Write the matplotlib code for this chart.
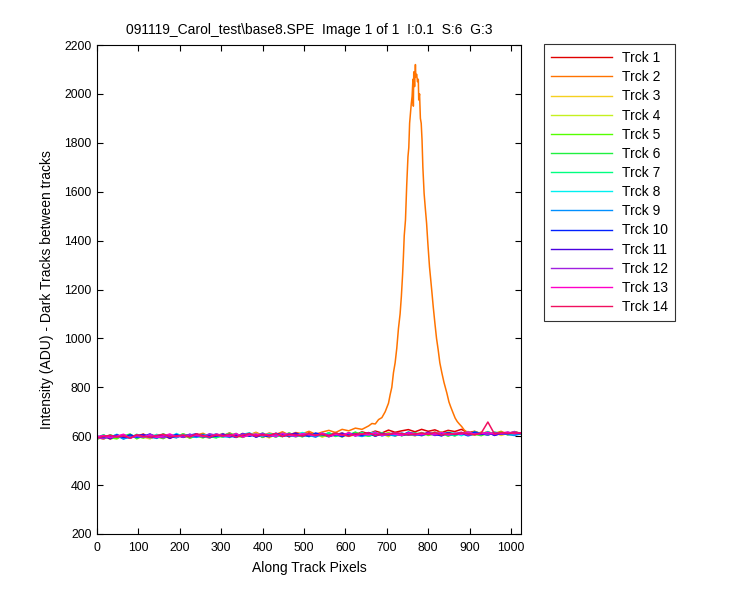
import matplotlib
matplotlib.use("Agg")
import matplotlib.pyplot as plt

plt.rcParams['font.family'] = ['Liberation Sans', 'DejaVu Sans']

TITLE = "091119_Carol_test\\base8.SPE  Image 1 of 1  I:0.1  S:6  G:3"
X_LABEL = "Along Track Pixels"
Y_LABEL = "Intensity (ADU) - Dark Tracks between tracks"
LABELS = ["Trck %d" % i for i in range(1, 15)]
COLORS = ['#e00000', '#ff7300', '#f5d020', '#c5f020', '#55ff00', '#20f040', '#00ff80',
          '#00f0f0', '#0090ff', '#0020ff', '#4a00e0', '#a020e0', '#ff00c8', '#f01060']

# shared sampling positions for the baseline tracks
X_BASE = list(range(0, 1024, 16)) + [1023]

TRCK1 = [589,604,593,606,590,602,596,608,591,600,605,592,607,595,603,598,
         609,594,604,598,611,596,606,600,612,595,608,601,613,597,610,603,
         614,599,610,604,615,601,612,606,618,610,621,613,625,616,622,627,
         618,628,620,626,615,624,619,628,614,620,610,618,607,616,609,619,
         611]

TRCK2_X = [0,16,32,48,64,80,96,112,128,144,160,176,192,208,224,240,256,272,288,304,
           320,336,352,368,384,400,416,432,448,464,480,496,512,528,544,
           560,576,592,608,624,640,656,664,672,680,688,696,704,708,712,716,720,724,
           728,732,735,738,740,742,745,748,751,753,755,757,759,761,763,764,765,767,
           769,770,772,774,776,777,779,781,783,785,787,790,793,796,799,803,806,809,
           812,816,820,824,828,833,838,845,850,854,860,865,870,875,881,887,893,900,
           912,928,944,960,976,992,1008,1023]
TRCK2 = [595,588,603,592,606,594,601,609,593,604,597,607,595,610,599,604,612,598,608,601,
         614,600,611,605,616,603,613,607,618,605,615,610,620,608,617,
         624,615,628,622,633,628,642,652,650,668,676,700,735,770,800,860,900,960,
         1040,1100,1170,1260,1334,1420,1484,1627,1743,1780,1880,1920,1960,1990,2060,1950,2090,2030,
         2120,2070,2080,2050,2060,1975,2000,1900,1880,1811,1700,1593,1530,1471,1390,1293,1240,1186,
         1130,1063,1000,953,900,858,820,776,740,721,695,674,660,650,639,625,618,612,
         619,608,616,611,620,607,617,612]

TRCK3 = [592,603,587,599,606,591,604,596,589,607,598,593,605,600,594,609,
         599,592,607,597,610,595,603,612,598,605,593,609,601,614,597,606,
         602,611,596,608,600,614,599,606,612,601,609,603,616,600,611,606,
         613,602,610,617,605,612,601,615,608,604,618,609,614,603,612,617,
         610]
TRCK4 = [600,590,597,605,593,608,589,602,598,606,592,604,596,610,591,603,
         606,596,601,611,594,607,599,604,613,597,609,602,598,612,604,600,
         609,598,613,603,607,596,611,605,601,614,606,610,598,616,604,609,
         601,613,607,611,618,604,610,614,603,612,608,619,606,613,609,604,
         613]
TRCK5 = [587,598,594,589,605,596,600,592,607,597,590,604,599,608,595,601,
         593,606,600,597,609,602,595,611,598,604,607,596,610,600,605,613,
         599,607,603,598,612,606,601,615,604,600,610,607,613,602,609,605,
         607,615,603,610,612,600,611,606,616,608,602,613,610,617,605,611,
         608]
TRCK6 = [598,592,606,595,601,609,590,603,598,594,610,597,602,606,593,600,
         608,599,593,605,603,611,596,607,600,613,599,604,610,601,607,597,
         611,604,601,614,599,608,605,617,603,610,600,612,606,615,602,609,
         614,605,611,608,603,616,610,607,619,606,612,604,617,611,608,615,
         614]
TRCK7 = [595,606,590,600,597,593,608,596,602,591,606,599,594,609,597,604,
         600,608,595,603,612,598,606,601,609,596,611,604,599,613,602,607,
         598,610,604,614,601,607,611,603,616,600,608,613,605,610,602,617,
         609,604,613,607,615,610,601,612,606,618,611,605,614,608,616,610,
         609]
TRCK8 = [593,600,596,608,591,597,604,599,593,607,601,596,611,598,603,595,
         606,601,610,597,604,599,607,614,600,603,609,597,612,605,601,615,
         606,600,612,604,609,599,613,607,603,611,617,601,608,612,606,614,
         603,611,607,616,605,609,613,602,614,610,607,618,604,612,615,609,
         612]
TRCK9 = [590,597,593,602,588,599,595,604,596,592,603,598,594,605,600,596,
         602,593,608,599,596,604,601,610,597,605,602,599,609,603,598,607,
         604,596,610,602,606,600,612,605,599,608,603,611,606,601,613,604,
         609,602,611,606,614,603,608,612,601,609,606,615,604,611,607,603,
         610]
TRCK10 = [601,592,599,604,595,606,597,600,609,594,602,598,607,596,604,610,
          597,603,599,608,602,595,611,600,606,603,598,612,605,601,609,604,
          600,613,606,602,610,598,611,607,604,614,601,609,606,612,603,616,
          608,605,612,609,601,614,607,611,604,617,609,606,613,608,615,611,
          612]
TRCK11 = [596,601,589,605,597,593,602,607,595,600,605,591,603,598,608,600,
          605,596,602,609,598,604,600,611,596,607,603,610,599,605,613,601,
          608,603,611,598,606,613,602,609,605,615,601,610,607,612,604,608,
          611,606,616,603,610,613,607,614,605,611,608,616,603,612,610,614,
          611]
TRCK12 = [594,590,602,598,605,593,600,596,608,599,593,604,601,596,607,602,
          598,610,603,600,606,597,609,604,602,612,599,607,603,611,600,609,
          606,601,612,604,609,603,614,600,610,606,613,602,608,615,605,611,
          603,612,609,605,614,607,611,616,604,610,613,606,615,609,612,618,
          611]
TRCK13 = [597,603,594,600,608,592,605,598,603,595,601,609,597,604,599,606,
          601,597,609,603,600,611,596,605,609,602,607,598,612,604,601,610,
          607,603,612,599,608,605,613,602,610,606,615,604,611,608,603,614,
          610,606,613,609,616,605,612,608,618,607,611,615,609,613,617,610,
          614]
TRCK14 = [592,599,604,596,601,593,606,599,595,603,608,597,601,605,596,610,
          602,598,605,601,609,597,604,611,600,606,603,612,599,608,605,601,
          611,604,607,602,613,606,600,610,608,614,603,609,606,615,611,605,
          609,613,607,616,604,611,608,614,610,606,613,658,609,615,611,614,
          612]

X_TICKS = list(range(0, 1001, 100))
Y_TICKS = list(range(200, 2201, 200))

series = [(X_BASE, TRCK1), (TRCK2_X, TRCK2), (X_BASE, TRCK3), (X_BASE, TRCK4),
          (X_BASE, TRCK5), (X_BASE, TRCK6), (X_BASE, TRCK7), (X_BASE, TRCK8),
          (X_BASE, TRCK9), (X_BASE, TRCK10), (X_BASE, TRCK11), (X_BASE, TRCK12),
          (X_BASE, TRCK13), (X_BASE, TRCK14)]

fig = plt.figure(figsize=(7.5, 6), dpi=100)
ax = fig.add_axes([97/750, 1-534/600, (521-97)/750, (534-45)/600])

for (xs, ys), lab, c in zip(series, LABELS, COLORS):
    ax.plot(xs, ys, color=c, lw=1.1, label=lab)

ax.set_xlim(0, 1024)
ax.set_ylim(200, 2200)
ax.set_xticks(X_TICKS)
ax.set_yticks(Y_TICKS)
ax.tick_params(axis='both', direction='in', top=True, right=True, length=4, width=0.8,
               labelsize=8.8)
ax.tick_params(axis='x', pad=6)
ax.tick_params(axis='y', pad=4)
for s in ax.spines.values():
    s.set_linewidth(0.8)
ax.set_title(TITLE, fontsize=10, pad=8)
ax.set_xlabel(X_LABEL, fontsize=10, labelpad=5)
ax.set_ylabel(Y_LABEL, fontsize=10, labelpad=7)

leg = fig.legend(loc='upper left', bbox_to_anchor=(544/750, 1-44/600),
                 fontsize=10, frameon=True, fancybox=False, edgecolor='black',
                 handlelength=4.4, handletextpad=0.7, labelspacing=0.37,
                 borderpad=0.52, borderaxespad=0)
leg.get_frame().set_linewidth(0.8)
for l in leg.get_lines():
    l.set_linewidth(1.0)

fig.savefig("out.png", dpi=100, facecolor='white')
